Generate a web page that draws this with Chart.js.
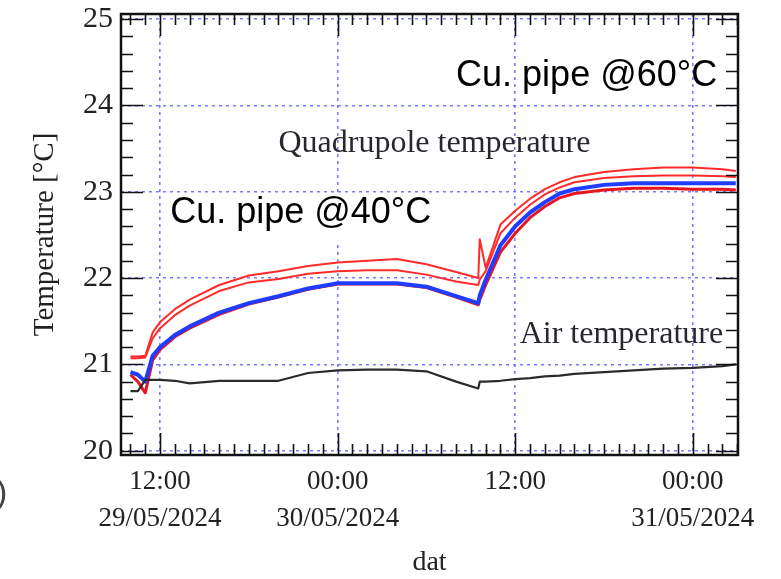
<!DOCTYPE html>
<html>
<head>
<meta charset="utf-8">
<script src="https://cdn.jsdelivr.net/npm/chart.js@4.4.1/dist/chart.umd.min.js"></script>
<style>
  body { margin: 0; background: #fff; }
  #wrap { width: 781px; height: 579px; }
</style>
</head>
<body>
<div id="wrap"><canvas id="myChart" width="781" height="579"></canvas></div>
<script>
// time in hours from 00:00 29/05/2024
const hours = [10, 10.5, 11, 11.5, 12, 13, 14, 16, 18, 20, 22, 24, 26, 28, 30, 32, 33.5, 33.6, 34, 35, 36, 37, 38, 39, 40, 42, 44, 46, 48, 50, 50.9]

// quadrupole sensors
const redTop = [21.09, 21.09, 21.10, 21.37, 21.49, 21.64, 21.75, 21.92, 22.03, 22.08, 22.14, 22.18, 22.20, 22.22, 22.16, 22.07, 22.00, 22.45, 22.12, 22.62, 22.78, 22.92, 23.03, 23.11, 23.17, 23.23, 23.26, 23.28, 23.28, 23.26, 23.24]
const redMid = [21.07, 21.07, 21.08, 21.30, 21.42, 21.57, 21.68, 21.85, 21.95, 21.99, 22.05, 22.08, 22.09, 22.09, 22.04, 21.96, 21.92, 21.98, 22.08, 22.52, 22.70, 22.85, 22.97, 23.05, 23.11, 23.16, 23.18, 23.19, 23.19, 23.18, 23.17]
const blue = [20.91, 20.88, 20.80, 21.10, 21.20, 21.34, 21.44, 21.60, 21.71, 21.79, 21.88, 21.94, 21.94, 21.94, 21.90, 21.79, 21.71, 21.80, 21.98, 22.38, 22.60, 22.76, 22.88, 22.98, 23.03, 23.08, 23.10, 23.10, 23.10, 23.10, 23.10]
const redLow = [20.88, 20.80, 20.67, 21.05, 21.17, 21.32, 21.42, 21.58, 21.70, 21.78, 21.87, 21.93, 21.93, 21.93, 21.89, 21.78, 21.69, 21.75, 21.92, 22.30, 22.52, 22.70, 22.83, 22.93, 22.98, 23.02, 23.04, 23.04, 23.03, 23.03, 23.02]
// air
const air = [20.69, 20.69, 20.82, 20.82, 20.82, 20.81, 20.78, 20.81, 20.81, 20.81, 20.90, 20.93, 20.94, 20.94, 20.92, 20.80, 20.72, 20.80, 20.80, 20.81, 20.83, 20.84, 20.86, 20.87, 20.89, 20.91, 20.93, 20.95, 20.96, 20.98, 21.00]

const xTicks = [12, 24, 36, 48]
const xTickLabels = [['12:00', '29/05/2024'], ['00:00', '30/05/2024'], ['12:00', ''], ['00:00', '31/05/2024']]
const yTicks = [20, 21, 22, 23, 24, 25]

const notes = [
  { text: 'Cu. pipe @60°C', x: 32.0, y: 24.23, font: '36px "Liberation Sans"', color: '#000', box: false },
  { text: 'Cu. pipe @40°C', x: 12.68, y: 22.64, font: '36px "Liberation Sans"', color: '#000', box: true },
  { text: 'Quadrupole temperature', x: 20.0, y: 23.46, font: '32px "Liberation Serif"', color: '#2a2630', box: false },
  { text: 'Air temperature', x: 36.3, y: 21.25, font: '32px "Liberation Serif"', color: '#2a2630', box: false }
]

const pts = arr => hours.map((h, i) => ({ x: h, y: arr[i] }))

const boxBorder = {
  id: 'boxBorder',
  beforeDatasetsDraw (chart) {
    const { ctx, scales: { x, y } } = chart
    ctx.save()
    for (const n of notes) {
      if (!n.box) continue
      ctx.font = n.font
      const w = ctx.measureText(n.text).width
      const px = x.getPixelForValue(n.x)
      const py = y.getPixelForValue(n.y)
      ctx.fillStyle = '#fff'
      ctx.fillRect(px - 5, py - 27, w + 10, 45)
    }
    ctx.restore()
  },
  afterDatasetsDraw (chart) {
    const { ctx, chartArea: a, scales: { x, y } } = chart
    ctx.save()
    ctx.strokeStyle = '#111'
    ctx.lineWidth = 1.6
    ctx.beginPath()
    // inward ticks on all four sides
    for (let v = 200; v <= 250; v += 2) {
      const py = Math.round(y.getPixelForValue(v / 10)) + 0.5
      const len = v % 10 === 0 ? 22 : 12
      ctx.moveTo(a.left, py); ctx.lineTo(a.left + len, py)
      ctx.moveTo(a.right, py); ctx.lineTo(a.right - len, py)
    }
    for (let h = 10; h <= 51; h++) {
      const px = Math.round(x.getPixelForValue(h)) + 0.5
      const len = h % 12 === 0 ? 22 : 11
      ctx.moveTo(px, a.top); ctx.lineTo(px, a.top + len)
      ctx.moveTo(px, a.bottom); ctx.lineTo(px, a.bottom - len)
    }
    ctx.stroke()
    ctx.lineWidth = 2.5
    ctx.strokeRect(a.left, a.top, a.right - a.left, a.bottom - a.top)

    for (const n of notes) {
      ctx.font = n.font
      ctx.fillStyle = n.color
      ctx.textBaseline = 'alphabetic'
      ctx.fillText(n.text, x.getPixelForValue(n.x), y.getPixelForValue(n.y))
    }
    ctx.font = '34px "Liberation Sans"'
    ctx.fillStyle = '#444'
    ctx.fillText(')', -4, 503)
    ctx.restore()
  }
}

const ctx = document.getElementById('myChart').getContext('2d')
new Chart(ctx, {
  type: 'line',
  data: {
    datasets: [
      { label: 'Air', data: pts(air), borderColor: '#2b2b2b', borderWidth: 2.2 },
      { label: 'Quad 1', data: pts(redTop), borderColor: '#ff2a2a', borderWidth: 2 },
      { label: 'Quad 2', data: pts(redMid), borderColor: '#ff2a2a', borderWidth: 2 },
      { label: 'Quad 3', data: pts(blue), borderColor: '#1f3cff', borderWidth: 4 },
      { label: 'Quad 4', data: pts(redLow), borderColor: '#e8141e', borderWidth: 3 }
    ]
  },
  options: {
    responsive: false,
    animation: false,
    events: [],
    elements: { point: { radius: 0 }, line: { tension: 0, borderJoinStyle: 'round' } },
    layout: { padding: { top: 14, right: 43, left: 0, bottom: 0 } },
    plugins: { legend: { display: false }, tooltip: { enabled: false } },
    scales: {
      x: {
        type: 'linear',
        min: 9.36,
        max: 51.05,
        afterBuildTicks: s => { s.ticks = xTicks.map(v => ({ value: v })) },
        afterFit: s => { s.height = 124; s.paddingLeft = 0; s.paddingRight = 0 },
        ticks: {
          autoSkip: false,
          maxRotation: 0,
          padding: 8,
          color: '#222',
          font: { family: 'Liberation Serif', size: 27, lineHeight: 1.37 },
          callback: (v) => xTickLabels[xTicks.indexOf(v)]
        },
        grid: { color: 'rgba(100,100,255,0.85)', lineWidth: 1.6, drawTicks: false, tickLength: 0 },
        border: { display: false, dash: [3, 4] },
        title: { display: true, text: 'dat', color: '#222', font: { family: 'Liberation Serif', size: 28 }, padding: { top: 0, bottom: 0 } }
      },
      y: {
        min: 19.95,
        max: 25.06,
        afterBuildTicks: s => { s.ticks = yTicks.map(v => ({ value: v })) },
        afterFit: s => { s.width = 121; s.paddingTop = 0; s.paddingBottom = 0 },
        ticks: {
          padding: 8,
          color: '#222',
          font: { family: 'Liberation Serif', size: 30 }
        },
        grid: { color: 'rgba(100,100,255,0.85)', lineWidth: 1.6, drawTicks: false, tickLength: 0 },
        border: { display: false, dash: [3, 4] },
        title: { display: true, text: 'Temperature [°C]', color: '#222', font: { family: 'Liberation Serif', size: 29 }, padding: { top: 28, bottom: 0 } }
      }
    }
  },
  plugins: [boxBorder]
})
</script>
</body>
</html>
